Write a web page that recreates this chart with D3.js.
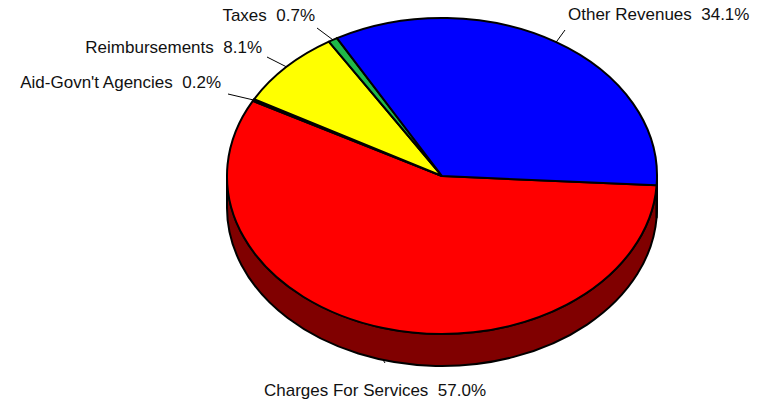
<!DOCTYPE html>
<html>
<head>
<meta charset="utf-8">
<script src="https://cdn.jsdelivr.net/npm/d3@7"></script>
<style>
  html, body { margin: 0; padding: 0; background: #fff; }
  svg { display: block; }
</style>
</head>
<body>
<svg id="chart" width="762" height="404"></svg>
<script>
// Revenue sources, in drawing order (clockwise)
const categories = ["Charges For Services", "Aid-Govn't Agencies", "Reimbursements", "Taxes", "Other Revenues"];
const shares = [57.0, 0.2, 8.1, 0.7, 34.1];

// Styling
const topColors  = ["#ff0000", "#000030", "#ffff00", "#1fb848", "#0000ff"];
const sideColors = ["#800000", "#000018", "#808000", "#0c5c24", "#000080"];

// Label layout: text anchor point and where the leader line starts
const labelLayout = [
  { x: 375, y: 396, anchor: "middle", lx: 385, ly: 363 },
  { x: 221, y: 88,  anchor: "end",    lx: 228, ly: 94 },
  { x: 262, y: 53,  anchor: "end",    lx: 267, ly: 57 },
  { x: 315, y: 21,  anchor: "end",    lx: 317, ly: 28 },
  { x: 568, y: 20,  anchor: "start",  lx: 565, ly: 30 }
];

const svg = d3.select("#chart");
const cx = 442, cy = 176, rx = 215, ry = 158, depth = 32;
const TAU = Math.PI * 2;
const start = 93.4 * Math.PI / 180;

const pie = d3.pie().sort(null).value(d => d).startAngle(start).endAngle(start + TAU);
const arcs = pie(shares);

// point on the (squashed) rim for a pie angle (0 = 12 o'clock, clockwise)
const pt = (a, dy = 0) => [cx + rx * Math.sin(a), cy - ry * Math.cos(a) + dy];
const fmt = p => p[0].toFixed(2) + "," + p[1].toFixed(2);

// Front wall: pieces of each slice lying in the visible half (angles PI/2..3PI/2)
const sideG = svg.append("g");
arcs.forEach((d, i) => {
  [[Math.PI / 2, 3 * Math.PI / 2], [Math.PI / 2 + TAU, 3 * Math.PI / 2 + TAU]].forEach(([lo, hi]) => {
    const s = Math.max(d.startAngle, lo), e = Math.min(d.endAngle, hi);
    if (e <= s) return;
    const path = `M${fmt(pt(s))} A${rx},${ry} 0 0 1 ${fmt(pt(e))} L${fmt(pt(e, depth))} A${rx},${ry} 0 0 0 ${fmt(pt(s, depth))} Z`;
    sideG.append("path")
      .attr("d", path)
      .attr("fill", sideColors[i])
      .attr("stroke", "#000")
      .attr("stroke-width", 2)
      .attr("stroke-linejoin", "round");
  });
});

// Top face slices
const topG = svg.append("g");
arcs.forEach((d, i) => {
  const large = (d.endAngle - d.startAngle) > Math.PI ? 1 : 0;
  const path = `M${cx},${cy} L${fmt(pt(d.startAngle))} A${rx},${ry} 0 ${large} 1 ${fmt(pt(d.endAngle))} Z`;
  topG.append("path")
    .attr("d", path)
    .attr("fill", topColors[i])
    .attr("stroke", "#000")
    .attr("stroke-width", 2)
    .attr("stroke-linejoin", "round");
});

// Labels and leader lines
const total = d3.sum(shares);
const labelG = svg.append("g");
arcs.forEach((d, i) => {
  const mid = (d.startAngle + d.endAngle) / 2;
  const front = Math.cos(mid) < 0;
  const end = pt(mid, front ? depth : 0);
  const L = labelLayout[i];
  labelG.append("line")
    .attr("x1", L.lx).attr("y1", L.ly)
    .attr("x2", end[0]).attr("y2", end[1])
    .attr("stroke", "#000")
    .attr("stroke-width", 1);
  labelG.append("text")
    .attr("x", L.x).attr("y", L.y)
    .attr("text-anchor", L.anchor)
    .attr("font-family", "Liberation Sans, Arial, sans-serif")
    .attr("font-size", 17)
    .attr("fill", "#111")
    .attr("xml:space", "preserve")
    .style("white-space", "pre")
    .text(categories[i] + "  " + d3.format(".1f")(shares[i]) + "%");
});
</script>
</body>
</html>
